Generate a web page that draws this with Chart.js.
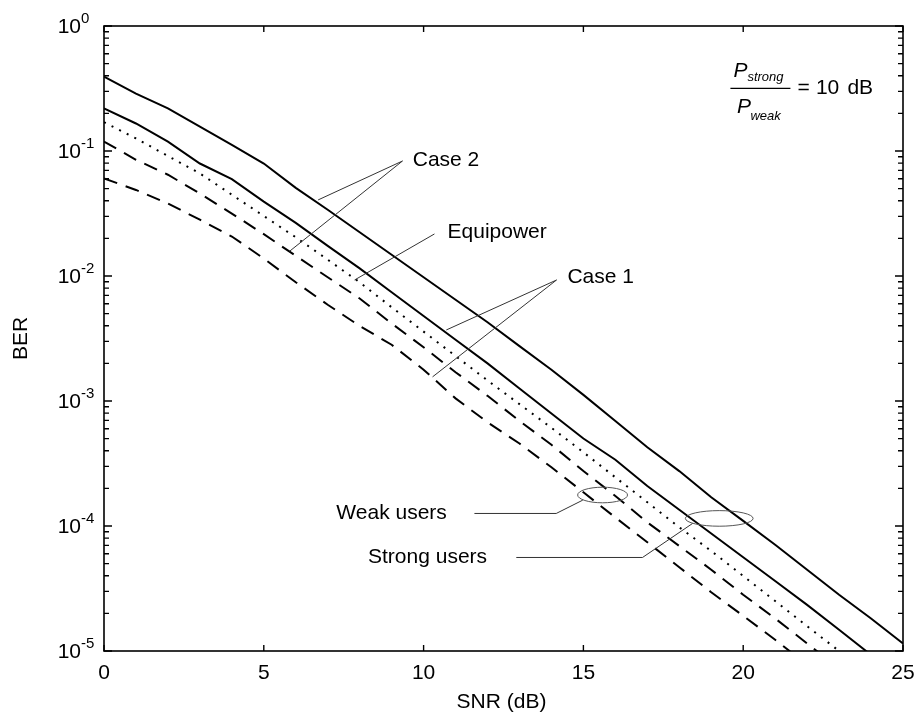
<!DOCTYPE html>
<html>
<head>
<meta charset="utf-8">
<script src="https://cdn.jsdelivr.net/npm/chart.js@4.4.0/dist/chart.umd.min.js"></script>
<style>
  html, body { margin: 0; padding: 0; background: #fff; }
  #wrap { width: 915px; height: 715px; }
</style>
</head>
<body>
<div id="wrap"><canvas id="berChart" width="915" height="715"></canvas></div>
<script>
// SNR in dB
const snr = [0, 1, 2, 3, 4, 5, 6, 7, 8, 9, 10, 11, 12, 13, 14, 15, 16, 17, 18, 19, 20, 21, 22, 23, 24, 25];

// BER curves
const case2Weak = [0.394, 0.288, 0.219, 0.157, 0.112, 0.0794, 0.0507, 0.0339, 0.0224, 0.0148, 0.00977, 0.00646, 0.00427,
  0.00275, 0.00178, 0.00112, 6.92e-4, 4.27e-4, 2.75e-4, 1.70e-4, 1.10e-4, 7.08e-5, 4.47e-5, 2.82e-5, 1.82e-5, 1.15e-5];
const case1Weak = [0.219, 0.166, 0.119, 0.0794, 0.0596, 0.0394, 0.0266, 0.0174, 0.0115, 0.00741, 0.00479, 0.00309, 0.00200,
  0.00126, 7.94e-4, 5.01e-4, 3.39e-4, 2.09e-4, 1.35e-4, 8.71e-5, 5.62e-5, 3.63e-5, 2.34e-5, 1.48e-5, 9.3e-6, 5.75e-6];
const equipower = [0.170, 0.126, 0.0912, 0.0661, 0.0447, 0.0302, 0.0204, 0.0135, 0.00891, 0.00562, 0.00359, 0.00229, 0.00146,
  9.44e-4, 6.10e-4, 3.89e-4, 2.45e-4, 1.55e-4, 9.77e-5, 6.31e-5, 3.98e-5, 2.51e-5, 1.58e-5, 1.0e-5, 6.3e-6];
const case2Strong = [0.119, 0.0851, 0.0646, 0.0457, 0.0316, 0.0216, 0.0145, 0.00977, 0.00661, 0.00417, 0.00269, 0.00170,
  0.00110, 6.92e-4, 4.47e-4, 2.75e-4, 1.74e-4, 1.07e-4, 6.92e-5, 4.47e-5, 2.82e-5, 1.82e-5, 1.15e-5, 7.24e-6];
const case1Strong = [0.0604, 0.0488, 0.0380, 0.0282, 0.0207, 0.0138, 0.00891, 0.00589, 0.00398, 0.00282, 0.00178, 0.00105,
  6.76e-4, 4.57e-4, 2.95e-4, 1.86e-4, 1.17e-4, 7.41e-5, 4.68e-5, 2.95e-5, 1.91e-5, 1.23e-5, 7.76e-6];

const xTickLabels = [0, 5, 10, 15, 20, 25];
const yExponents = [0, -1, -2, -3, -4, -5];

const FONT = '"Liberation Sans", Arial, Helvetica, sans-serif';

// callouts, in data units (dB, BER)
const callouts = {
  labels: [
    { text: 'Case 2', x: 9.66, y: 0.0847 },
    { text: 'Equipower', x: 10.75, y: 0.0225 },
    { text: 'Case 1', x: 14.5, y: 0.00982 },
    { text: 'Weak users', x: 7.27, y: 1.27e-4 },
    { text: 'Strong users', x: 8.26, y: 5.65e-5 }
  ],
  leaders: [
    [[9.34, 0.0832], [6.70, 0.0406]],
    [[9.34, 0.0832], [5.81, 0.0158]],
    [[10.34, 0.0217], [7.84, 0.00929]],
    [[14.16, 0.00929], [10.71, 0.0037]],
    [[14.16, 0.00929], [10.28, 0.00156]],
    [[11.59, 1.26e-4], [14.15, 1.26e-4], [14.98, 1.61e-4]],
    [[12.90, 5.6e-5], [16.85, 5.6e-5], [18.42, 1.05e-4]]
  ],
  ellipses: [
    { x: 15.60, y: 1.77e-4, rx: 0.78, ry: 0.0624 },
    { x: 19.25, y: 1.15e-4, rx: 1.06, ry: 0.0624 }
  ],
  ratio: { x: 19.6, y: 0.317 }
};

function series(values) {
  return values.map((v, i) => ({ x: snr[i], y: v }));
}

const axesPlugin = {
  id: 'matlabAxes',
  afterDraw(chart) {
    const { ctx, chartArea: a, scales } = chart;
    const xs = scales.x, ys = scales.y;
    ctx.save();

    // box
    ctx.strokeStyle = '#000';
    ctx.lineWidth = 1.6;
    ctx.strokeRect(a.left, a.top, a.right - a.left, a.bottom - a.top);

    // x ticks (inward, top and bottom)
    ctx.lineWidth = 1.4;
    ctx.beginPath();
    xTickLabels.forEach(v => {
      const px = xs.getPixelForValue(v);
      ctx.moveTo(px, a.bottom); ctx.lineTo(px, a.bottom - 6);
      ctx.moveTo(px, a.top); ctx.lineTo(px, a.top + 6);
    });
    // y ticks, major + minor
    yExponents.forEach(e => {
      for (let m = 1; m <= 9; m++) {
        const v = m * Math.pow(10, e);
        if (v > ys.max * 1.0001 || v < ys.min * 0.9999) continue;
        const py = ys.getPixelForValue(v);
        const len = m === 1 ? 8 : 5;
        ctx.moveTo(a.left, py); ctx.lineTo(a.left + len, py);
        ctx.moveTo(a.right, py); ctx.lineTo(a.right - len, py);
      }
    });
    ctx.stroke();

    ctx.fillStyle = '#000';
    // x tick labels
    ctx.font = '21px ' + FONT;
    ctx.textAlign = 'center';
    ctx.textBaseline = 'middle';
    xTickLabels.forEach(v => {
      ctx.fillText(String(v), xs.getPixelForValue(v), a.bottom + 22);
    });

    // y tick labels 10^n
    yExponents.forEach(e => {
      const py = ys.getPixelForValue(Math.pow(10, e));
      ctx.font = '21px ' + FONT;
      ctx.textAlign = 'right';
      ctx.textBaseline = 'middle';
      ctx.fillText('10', a.left - 23, py + 1);
      ctx.font = '15px ' + FONT;
      ctx.textAlign = 'left';
      ctx.textBaseline = 'alphabetic';
      ctx.fillText(String(e), a.left - 23, py - 3);
    });

    // axis titles
    ctx.font = '21px ' + FONT;
    ctx.textAlign = 'center';
    ctx.textBaseline = 'middle';
    ctx.fillText('SNR (dB)', (a.left + a.right) / 2 - 2, a.bottom + 51);
    ctx.save();
    ctx.translate(21, (a.top + a.bottom) / 2);
    ctx.rotate(-Math.PI / 2);
    ctx.fillText('BER', 0, 0);
    ctx.restore();

    // callout leaders
    ctx.strokeStyle = '#333';
    ctx.lineWidth = 1;
    callouts.leaders.forEach(pts => {
      ctx.beginPath();
      pts.forEach(([x, y], i) => {
        const px = xs.getPixelForValue(x), py = ys.getPixelForValue(y);
        if (i === 0) ctx.moveTo(px, py); else ctx.lineTo(px, py);
      });
      ctx.stroke();
    });
    ctx.strokeStyle = '#555';
    callouts.ellipses.forEach(el => {
      const cx = xs.getPixelForValue(el.x), cy = ys.getPixelForValue(el.y);
      const rx = xs.getPixelForValue(el.x + el.rx) - cx;
      const ry = ys.getPixelForValue(el.y) - ys.getPixelForValue(el.y * Math.pow(10, el.ry));
      ctx.beginPath();
      ctx.ellipse(cx, cy, rx, ry, 0, 0, Math.PI * 2);
      ctx.stroke();
    });

    // callout texts
    ctx.fillStyle = '#000';
    ctx.font = '21px ' + FONT;
    ctx.textAlign = 'left';
    ctx.textBaseline = 'middle';
    callouts.labels.forEach(l => {
      ctx.fillText(l.text, xs.getPixelForValue(l.x), ys.getPixelForValue(l.y));
    });

    // P_strong / P_weak = 10 dB
    const ax = xs.getPixelForValue(callouts.ratio.x);
    const ay = ys.getPixelForValue(callouts.ratio.y);
    ctx.strokeStyle = '#000';
    ctx.lineWidth = 1.3;
    ctx.beginPath();
    ctx.moveTo(ax, ay); ctx.lineTo(ax + 60, ay);
    ctx.stroke();
    ctx.textBaseline = 'alphabetic';
    ctx.font = 'italic 21px ' + FONT;
    ctx.fillText('P', ax + 3, ay - 11);
    ctx.fillText('P', ax + 6.5, ay + 25);
    ctx.font = 'italic 13px ' + FONT;
    ctx.fillText('strong', ax + 17, ay - 7);
    ctx.fillText('weak', ax + 20, ay + 32);
    ctx.font = '21px ' + FONT;
    ctx.textBaseline = 'middle';
    ctx.fillText('=', ax + 67, ay);
    ctx.fillText('10', ax + 85.5, ay);
    ctx.fillText('dB', ax + 117, ay);

    ctx.restore();
  }
};

const solid = { borderColor: '#000', borderWidth: 2, borderDash: [] };
const dashed = { borderColor: '#000', borderWidth: 2, borderDash: [14, 9] };
const dotted = { borderColor: '#000', borderWidth: 2, borderDash: [2, 6.5] };

new Chart(document.getElementById('berChart'), {
  type: 'line',
  data: {
    datasets: [
      { label: 'Case 2 (weak)', data: series(case2Weak), ...solid },
      { label: 'Case 1 (weak)', data: series(case1Weak), ...solid },
      { label: 'Equipower', data: series(equipower), ...dotted },
      { label: 'Case 2 (strong)', data: series(case2Strong), ...dashed },
      { label: 'Case 1 (strong)', data: series(case1Strong), ...dashed }
    ]
  },
  options: {
    responsive: false,
    animation: false,
    devicePixelRatio: 1,
    layout: { padding: { left: 104, right: 12, top: 26, bottom: 64 } },
    elements: { point: { radius: 0 }, line: { tension: 0, fill: false } },
    plugins: { legend: { display: false }, tooltip: { enabled: false } },
    scales: {
      x: { type: 'linear', min: 0, max: 25, display: false },
      y: { type: 'logarithmic', min: 1e-5, max: 1, display: false }
    }
  },
  plugins: [axesPlugin]
});
</script>
</body>
</html>
